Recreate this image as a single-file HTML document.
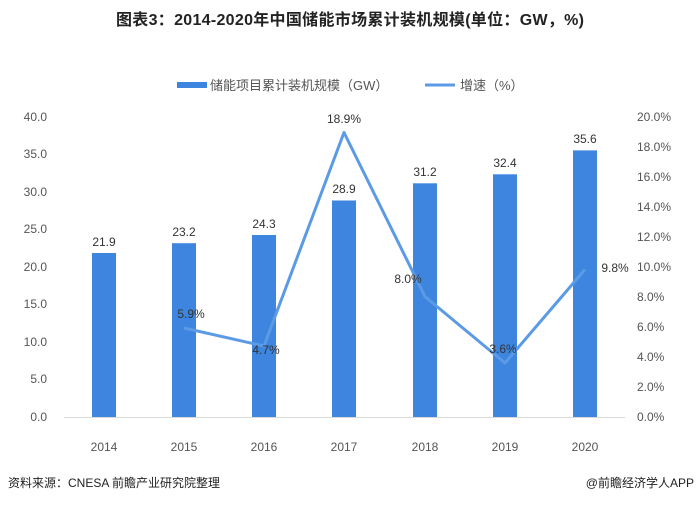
<!DOCTYPE html>
<html><head><meta charset="utf-8"><style>
body{margin:0;background:#fff;}
text{font-family:"Liberation Sans","Noto Sans CJK SC",sans-serif;}
</style></head><body>
<svg width="700" height="503" xmlns="http://www.w3.org/2000/svg">
<rect width="700" height="503" fill="#fff"/>
<text x="350" y="25" text-anchor="middle" font-size="16" font-weight="bold" fill="#222" textLength="468">图表3：2014-2020年中国储能市场累计装机规模(单位：GW，%)</text>
<rect x="177" y="82" width="30" height="6" fill="#3d85de"/>
<text x="210" y="90" font-size="13" fill="#555">储能项目累计装机规模（GW）</text>
<line x1="425" y1="85" x2="455" y2="85" stroke="#5b9be6" stroke-width="3"/>
<text x="460" y="90" font-size="13" fill="#555">增速（%）</text>
<g font-size="12" fill="#555" text-anchor="end">
<text x="47" y="121">40.0</text><text x="47" y="158">35.0</text><text x="47" y="196">30.0</text><text x="47" y="233">25.0</text><text x="47" y="271">20.0</text><text x="47" y="308">15.0</text><text x="47" y="346">10.0</text><text x="47" y="383">5.0</text><text x="47" y="421">0.0</text>
</g>
<g font-size="12" fill="#555" text-anchor="start">
<text x="637" y="121">20.0%</text><text x="637" y="151">18.0%</text><text x="637" y="181">16.0%</text><text x="637" y="211">14.0%</text><text x="637" y="241">12.0%</text><text x="637" y="271">10.0%</text><text x="637" y="301">8.0%</text><text x="637" y="331">6.0%</text><text x="637" y="361">4.0%</text><text x="637" y="391">2.0%</text><text x="637" y="421">0.0%</text>
</g>
<line x1="64" y1="417.5" x2="625" y2="417.5" stroke="#d9d9d9" stroke-width="1"/>
<g fill="#3d85de">
<rect x="92" y="253" width="24" height="164"/>
<rect x="172" y="243.2" width="24" height="173.8"/>
<rect x="252" y="235" width="24" height="182"/>
<rect x="332" y="200.5" width="24" height="216.5"/>
<rect x="413" y="183.3" width="24" height="233.7"/>
<rect x="493" y="174.3" width="24" height="242.7"/>
<rect x="573" y="150.4" width="24" height="266.6"/>
</g>
<g font-size="12" fill="#333" text-anchor="middle">
<text x="104" y="246">21.9</text><text x="184" y="236">23.2</text><text x="264" y="228">24.3</text><text x="344" y="193">28.9</text><text x="425" y="176">31.2</text><text x="505" y="167">32.4</text><text x="585" y="143">35.6</text>
</g>
<polyline points="184,328 264,346 344,132.5 425,296.6 505,363 585,269.5" fill="none" stroke="#5b9be6" stroke-width="3" stroke-linejoin="round"/>
<g font-size="12" fill="#333" text-anchor="middle">
<text x="191" y="318">5.9%</text><text x="266" y="354">4.7%</text><text x="344" y="123">18.9%</text><text x="408" y="283">8.0%</text><text x="503" y="353">3.6%</text><text x="615" y="272">9.8%</text>
</g>
<g font-size="12" fill="#555" text-anchor="middle">
<text x="104" y="451">2014</text><text x="184" y="451">2015</text><text x="264" y="451">2016</text><text x="344" y="451">2017</text><text x="425" y="451">2018</text><text x="505" y="451">2019</text><text x="585" y="451">2020</text>
</g>
<text x="8" y="487" font-size="12" fill="#222">资料来源：CNESA 前瞻产业研究院整理</text>
<text x="694" y="487" font-size="12" fill="#222" text-anchor="end">@前瞻经济学人APP</text>
</svg>
</body></html>
